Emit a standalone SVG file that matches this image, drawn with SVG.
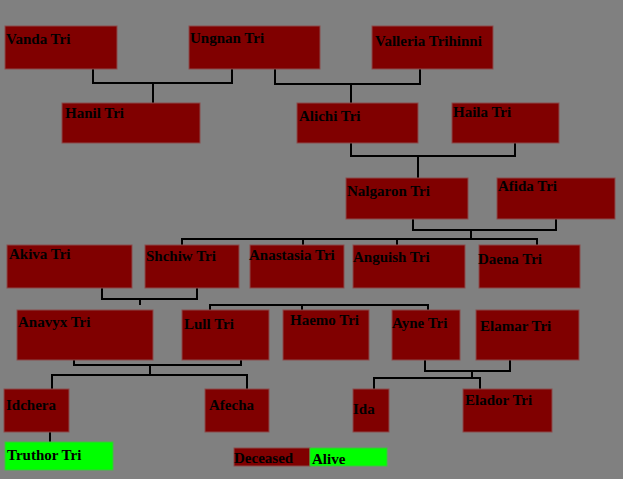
<svg xmlns="http://www.w3.org/2000/svg" width="623" height="479" viewBox="0 0 623 479">
<style>
.n rect{fill:#800000;stroke:#8a4a4a;stroke-width:1}
.a rect{fill:#00ff00;stroke:#40c040}
text{font-family:"Liberation Serif",serif;font-weight:bold;font-size:15px;fill:#000}
.c path{fill:none;stroke:#000;stroke-width:2}
</style>
<rect width="623" height="479" fill="#808080"/>
<g class="c">
<path d="M93 69V83H232V69M153 83V103"/>
<path d="M275 69V84H420V69M351 84V103"/>
<path d="M351 143V156H515V143M418 156V178"/>
<path d="M413 219V230H556V219M471 230V239M182 245V239H537V245M303 239V245M397 239V245"/>
<path d="M102 288V299H197V288M140 299V305M210 310V305H428V310M302 305V310"/>
<path d="M74 360V365H241V360M150 365V375M52 389V375H247V389"/>
<path d="M425 360V371H510V360M472 371V378M374 389V378H480V389"/>
<path d="M50 432V442"/>
</g>
<g id="vanda" class="n"><rect x="5" y="26" width="112" height="43"/><text x="6" y="44">Vanda Tri</text></g>
<g id="ungnan" class="n"><rect x="189" y="26" width="131" height="43"/><text x="190" y="43">Ungnan Tri</text></g>
<g id="valleria" class="n"><rect x="372" y="26" width="121" height="43"/><text x="375" y="46">Valleria Trihinni</text></g>
<g id="hanil" class="n"><rect x="62" y="103" width="138" height="40"/><text x="65" y="118">Hanil Tri</text></g>
<g id="alichi" class="n"><rect x="297" y="103" width="121" height="40"/><text x="299" y="121">Alichi Tri</text></g>
<g id="haila" class="n"><rect x="452" y="103" width="107" height="40"/><text x="453" y="117">Haila Tri</text></g>
<g id="nalgaron" class="n"><rect x="346" y="178" width="122" height="41"/><text x="347" y="196">Nalgaron Tri</text></g>
<g id="afida" class="n"><rect x="497" y="178" width="118" height="41"/><text x="498" y="191">Afida Tri</text></g>
<g id="akiva" class="n"><rect x="7" y="245" width="125" height="43"/><text x="9" y="259">Akiva Tri</text></g>
<g id="shchiw" class="n"><rect x="145" y="245" width="94" height="43"/><text x="146" y="261">Shchiw Tri</text></g>
<g id="anastasia" class="n"><rect x="250" y="245" width="94" height="43"/><text x="249" y="260">Anastasia Tri</text></g>
<g id="anguish" class="n"><rect x="353" y="245" width="112" height="43"/><text x="353" y="262">Anguish Tri</text></g>
<g id="daena" class="n"><rect x="479" y="245" width="101" height="43"/><text x="478" y="264">Daena Tri</text></g>
<g id="anavyx" class="n"><rect x="17" y="310" width="136" height="50"/><text x="18" y="327">Anavyx Tri</text></g>
<g id="lull" class="n"><rect x="182" y="310" width="87" height="50"/><text x="184" y="329">Lull Tri</text></g>
<g id="haemo" class="n"><rect x="283" y="310" width="86" height="50"/><text x="290" y="325">Haemo Tri</text></g>
<g id="ayne" class="n"><rect x="392" y="310" width="68" height="50"/><text x="392" y="328">Ayne Tri</text></g>
<g id="elamar" class="n"><rect x="476" y="310" width="103" height="50"/><text x="480" y="331">Elamar Tri</text></g>
<g id="idchera" class="n"><rect x="4" y="389" width="65" height="43"/><text x="6" y="410">Idchera</text></g>
<g id="afecha" class="n"><rect x="205" y="389" width="64" height="43"/><text x="209" y="410">Afecha</text></g>
<g id="ida" class="n"><rect x="353" y="389" width="36" height="43"/><text x="353" y="414">Ida</text></g>
<g id="elador" class="n"><rect x="463" y="389" width="89" height="43"/><text x="465" y="405">Elador Tri</text></g>
<g id="truthor" class="a"><rect x="5" y="442" width="108" height="28"/><text x="7" y="460">Truthor Tri</text></g>
<g id="legend-deceased" class="n"><rect x="234" y="448" width="76" height="18"/><text x="234" y="463">Deceased</text></g>
<g id="legend-alive" class="a"><rect x="310" y="448" width="77" height="18"/><text x="312" y="464">Alive</text></g>
</svg>
